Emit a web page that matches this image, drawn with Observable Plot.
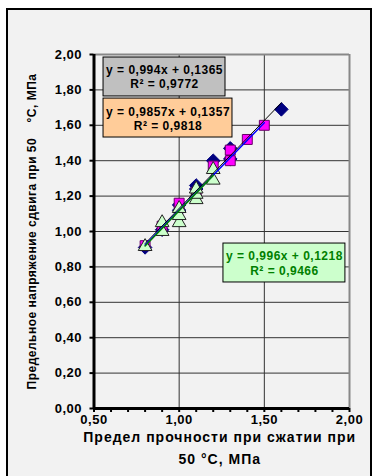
<!DOCTYPE html>
<html><head><meta charset="utf-8">
<script src="https://cdn.jsdelivr.net/npm/d3@7"></script>
<script src="https://cdn.jsdelivr.net/npm/@observablehq/plot@0.6"></script>
<style>
html,body{margin:0;padding:0;background:#fff;}
#wrap{position:relative;width:373px;height:476px;overflow:hidden;}
#frame{position:absolute;left:6px;top:8px;width:366px;height:500px;box-sizing:border-box;border:2px solid #000;background:#f2f2f2;}
#chart{position:absolute;left:0;top:0;}
</style>
</head><body>
<div id="wrap"><div id="frame"></div><div id="chart"></div></div>
<script>
// ---- data ----
const s1x = [0.8, 0.9, 1.0, 1.0, 1.1, 1.1, 1.2, 1.3, 1.3, 1.6];
const s1y = [0.91, 1.01, 1.12, 1.15, 1.24, 1.26, 1.40, 1.41, 1.47, 1.69];
const s2x = [0.8, 0.9, 1.0, 1.1, 1.2, 1.3, 1.3, 1.4, 1.5];
const s2y = [0.92, 1.03, 1.16, 1.22, 1.37, 1.40, 1.46, 1.52, 1.60];
const s3x = [0.8, 0.9, 0.9, 1.0, 1.0, 1.0, 1.1, 1.1, 1.1, 1.2, 1.2];
const s3y = [0.915, 1.00, 1.05, 1.05, 1.09, 1.13, 1.18, 1.21, 1.24, 1.29, 1.35];
const slopes = [0.994, 0.9857, 0.996];
const intercepts = [0.1365, 0.1357, 0.1218];
const r2 = [0.9772, 0.9818, 0.9466];
const xTicks = [0.5, 0.6, 0.7, 0.8, 0.9, 1.0, 1.1, 1.2, 1.3, 1.4, 1.5, 1.6, 1.7, 1.8, 1.9, 2.0];
const xLabelTicks = [0.5, 1.0, 1.5, 2.0];
const yTicks = [0, 0.2, 0.4, 0.6, 0.8, 1.0, 1.2, 1.4, 1.6, 1.8, 2.0];
const xTitle = "Предел прочности при сжатии при\n50 °С, МПа";
const yTitle = "Предельное напряжение сдвига при 50\u00a0\u00a0\u00a0\u00a0°С, МПа";

// ---- build ----
const comma = v => String(v).replace(".", ",");
const f2 = v => d3.format(".2f")(v).replace(".", ",");
const zip = (xs, ys) => xs.map((x, i) => ({x, y: ys[i]}));
const S1 = zip(s1x, s1y), S2 = zip(s2x, s2y), S3 = zip(s3x, s3y);
const series = [S1, S2, S3];
const trends = series.map((s, k) => {
  const [lo, hi] = d3.extent(s, d => d.x);
  return [lo, hi].map(x => ({x, y: slopes[k] * x + intercepts[k]}));
});
const eqText = slopes.map((m, k) => `y = ${comma(m)}x + ${comma(intercepts[k])}\nR² = ${comma(r2[k])}`);

// layout of the equation boxes (data units)
const boxPos = [
  {x1: 0.556, x2: 1.272, y1: 1.763, y2: 1.983, fill: "#C0C0C0", color: "#000"},
  {x1: 0.556, x2: 1.313, y1: 1.531, y2: 1.751, fill: "#FFCC99", color: "#000"},
  {x1: 1.260, x2: 1.976, y1: 0.712, y2: 0.932, fill: "#CCFFCC", color: "#008000"}
].map((b, k) => ({...b, text: eqText[k]}));

const chart = Plot.plot({
  width: 373, height: 476,
  marginLeft: 93.5, marginRight: 24, marginTop: 54, marginBottom: 68,
  x: {domain: [0.5, 2], axis: null},
  y: {domain: [0, 2], axis: null},
  style: {background: "transparent", fontFamily: "'Liberation Sans', Arial, sans-serif", fontWeight: "bold", fontSize: "13px", color: "#000", overflow: "visible", letterSpacing: "0.5px"},
  marks: [
    Plot.gridY(yTicks, {stroke: "#333", strokeOpacity: 1, strokeWidth: 1}),
    Plot.gridX([1.0, 1.5], {stroke: "#333", strokeOpacity: 1, strokeWidth: 1}),
    Plot.ruleY([2], {stroke: "#888", strokeWidth: 2}),
    Plot.ruleX([2], {stroke: "#888", strokeWidth: 2}),
    Plot.axisY(yTicks, {tickSize: 4, tickPadding: 8, strokeWidth: 2, tickFormat: f2, label: null, fontSize: 13, fontWeight: "bold"}),
    Plot.axisX(xTicks, {tickSize: 4, tickPadding: 2, strokeWidth: 2, tickFormat: d => xLabelTicks.includes(d) ? f2(d) : "", label: null, fontSize: 13, fontWeight: "bold"}),
    Plot.ruleX([0.5], {stroke: "#000", strokeWidth: 3, y1: 0, y2: 2}),
    Plot.ruleY([0], {stroke: "#000", strokeWidth: 3, x1: 0.5, x2: 2}),
    Plot.dot(S1, {x: "x", y: "y", symbol: d3.symbolDiamond2, r: 6.1, fill: "#000080", stroke: "#000080", strokeWidth: 1}),
    Plot.dot(S2, {x: "x", y: "y", symbol: "square", r: 5.6, fill: "#FF00FF", stroke: "#660066", strokeWidth: 1}),
    Plot.dot(S3, {x: "x", y: "y", symbol: "triangle", r: 5.1, fill: "#CCFFCC", stroke: "#222", strokeWidth: 1}),
    Plot.line(trends[0], {x: "x", y: "y", stroke: "#000", strokeWidth: 1}),
    Plot.line(trends[1], {x: "x", y: "y", stroke: "#0000FF", strokeWidth: 1.5}),
    Plot.line(trends[2], {x: "x", y: "y", stroke: "#008000", strokeWidth: 1.5}),
    Plot.rect(boxPos, {x1: "x1", x2: "x2", y1: "y1", y2: "y2", fill: "fill", stroke: "#000", strokeWidth: 1}),
    Plot.text(boxPos, {x: d => (d.x1 + d.x2) / 2, y: d => (d.y1 + d.y2) / 2, text: "text", fill: "color", fontSize: 12, fontWeight: "bold", lineHeight: 1.17, lineAnchor: "middle"}),
    Plot.text([yTitle], {frameAnchor: "left", rotate: -90, dx: -61.5, text: d => d, fontSize: 12, fontWeight: "bold", textAnchor: "middle", lineAnchor: "middle"}),
    Plot.text([xTitle], {frameAnchor: "bottom", dy: 18, dx: -2, text: d => d, fontSize: 14, fontWeight: "bold", textAnchor: "middle", lineAnchor: "top", lineHeight: 1.55})
  ]
});
chart.querySelectorAll("text").forEach(t => {
  if (t.textContent.includes("Предел прочности")) t.style.letterSpacing = "1px";
});
document.getElementById("chart").appendChild(chart);
</script>
</body></html>
